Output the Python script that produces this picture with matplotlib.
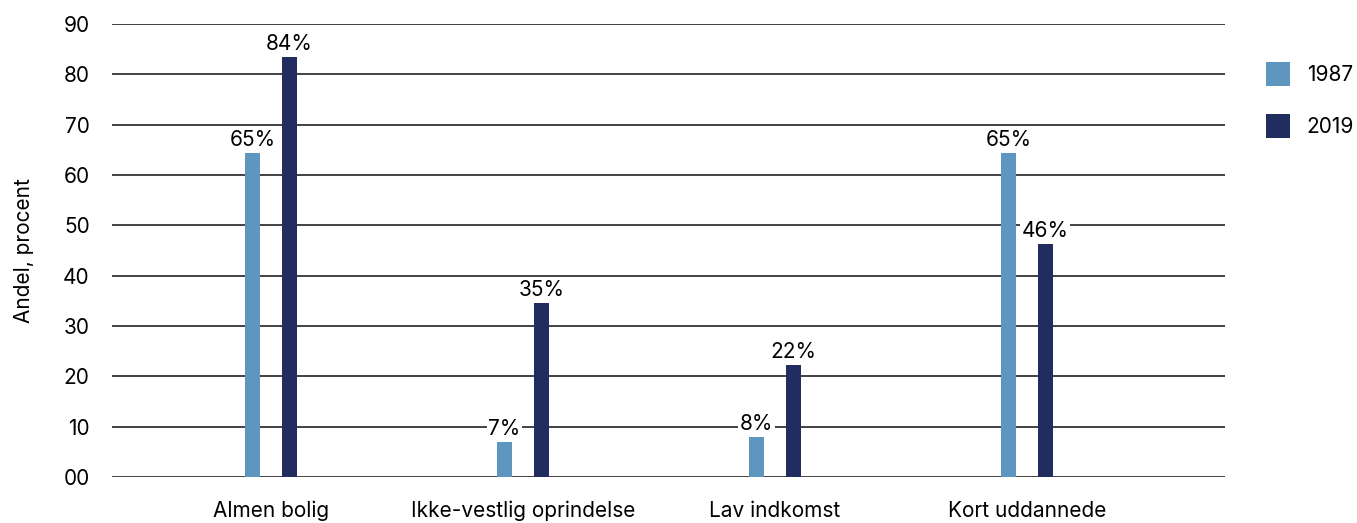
import matplotlib.pyplot as plt
import numpy as np

# data
categories = ["Almen bolig", "Ikke-vestlig oprindelse", "Lav indkomst", "Kort uddannede"]
values_1987 = [64.4, 7.0, 8.0, 64.4]
values_2019 = [83.5, 34.6, 22.3, 46.3]
labels_1987 = ["65%", "7%", "8%", "65%"]
labels_2019 = ["84%", "35%", "22%", "46%"]
series_names = ["1987", "2019"]
yticks = [0, 10, 20, 30, 40, 50, 60, 70, 80, 90]
ytick_labels = ["00", "10", "20", "30", "40", "50", "60", "70", "80", "90"]

col_1987 = "#5e96c0"
col_2019 = "#222d5f"

plt.rcParams["font.family"] = ["Inter", "DejaVu Sans"]
FS = 15

fig = plt.figure(figsize=(13.57, 5.23), dpi=100)
ax = fig.add_axes([0.0825, 0.088, 0.8202, 0.866])

x = np.arange(len(categories))
width = 0.06
offset = 0.073

b1 = ax.bar(x - offset, values_1987, width=width, color=col_1987, zorder=3, label=series_names[0])
b2 = ax.bar(x + offset, values_2019, width=width, color=col_2019, zorder=3, label=series_names[1])

# labels over bars, white box cuts the grid lines
for bars, labels in [(b1, labels_1987), (b2, labels_2019)]:
    for rect, txt in zip(bars, labels):
        ax.annotate(txt, (rect.get_x() + rect.get_width() / 2, rect.get_height()),
                    xytext=(0, 2), textcoords="offset points",
                    ha="center", va="bottom", fontsize=FS, zorder=4,
                    bbox=dict(boxstyle="square,pad=0.08", fc="white", ec="none"))

ax.set_xlim(-0.631, 3.786)
ax.set_ylim(0, 90)
ax.set_yticks(yticks)
ax.set_yticklabels(ytick_labels)
ax.set_xticks(x)
ax.set_xticklabels(categories)
ax.tick_params(axis="y", length=0, pad=16, labelsize=FS)
ax.tick_params(axis="x", length=0, pad=17, labelsize=FS)

ax.yaxis.grid(True, color="#333333", linewidth=1.3, zorder=1)
ax.set_axisbelow(True)
for s in ax.spines.values():
    s.set_visible(False)

ax.set_ylabel("Andel, procent", fontsize=FS, labelpad=21)

fig.legend(loc="upper left", bbox_to_anchor=(0.933, 0.882), frameon=False,
           fontsize=FS, handlelength=1.15, handleheight=1.4,
           labelspacing=1.35, handletextpad=0.8, borderaxespad=0, borderpad=0)

fig.savefig("out.png", dpi=100)
